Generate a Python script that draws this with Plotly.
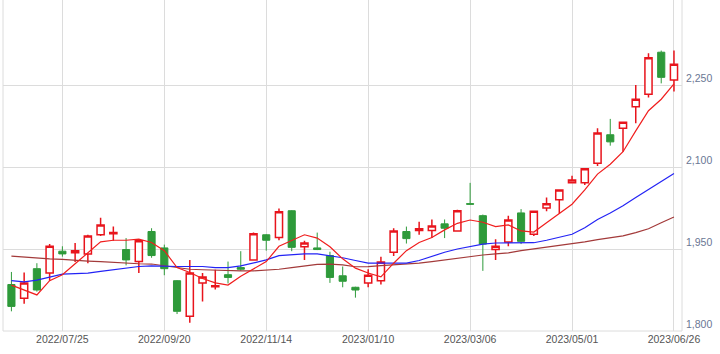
import plotly.graph_objects as go

weeks = ["2022/06/27","2022/07/04","2022/07/11","2022/07/19","2022/07/25","2022/08/01","2022/08/08",
         "2022/08/15","2022/08/22","2022/08/29","2022/09/05","2022/09/12","2022/09/20","2022/09/26",
         "2022/10/03","2022/10/11","2022/10/17","2022/10/24","2022/10/31","2022/11/07","2022/11/14",
         "2022/11/21","2022/11/28","2022/12/05","2022/12/12","2022/12/19","2022/12/26","2023/01/04",
         "2023/01/10","2023/01/16","2023/01/23","2023/01/30","2023/02/06","2023/02/13","2023/02/20",
         "2023/02/27","2023/03/06","2023/03/13","2023/03/20","2023/03/27","2023/04/03","2023/04/10",
         "2023/04/17","2023/04/24","2023/05/01","2023/05/08","2023/05/15","2023/05/22","2023/05/29",
         "2023/06/05","2023/06/12","2023/06/19","2023/06/26"]

open_ = [1885,1860,1914,1906,1946,1943,1941,1976,1978,1949,1927,1982,1952,1892,1827,1888,1881,1903,
         1916,1930,1976,1971,2020,1954,1952,1938,1901,1880,1888,1892,1944,1982,1984,1984,1996,1983,
         2033,2011,1949,1963,2016,1977,2025,2040,2071,2071,2107,2159,2171,2210,2233,2310,2259]
high = [1908,1907,1924,1959,1955,1961,1976,2007,1991,1970,1967,1988,1958,1893,1930,1906,1912,1927,
        1946,1980,1977,2024,2021,1965,1980,1945,1918,1881,1913,1936,1988,1991,2000,2004,2004,2022,
        2071,2013,1968,2011,2023,2020,2044,2058,2084,2097,2171,2188,2183,2250,2308,2313,2313]
low = [1836,1850,1872,1892,1936,1926,1924,1974,1965,1920,1906,1934,1902,1831,1815,1854,1876,1887,
       1910,1930,1947,1966,1946,1930,1948,1888,1880,1861,1880,1885,1937,1960,1976,1970,1970,1983,
       2031,1910,1930,1955,1959,1974,2019,2015,2070,2067,2102,2139,2128,2180,2227,2253,2238]
close = [1845,1888,1875,1955,1941,1947,1974,1994,1980,1930,1965,1938,1914,1836,1906,1899,1883,1898,
         1913,1978,1966,2018,1953,1961,1949,1898,1891,1875,1902,1926,1983,1969,1987,1992,1988,2020,
         2032,1959,1955,2003,1964,2019,2033,2058,2076,2097,2162,2146,2182,2224,2300,2264,2288]

ma_short = [1884,1875,1866,1892,1903,1923,1943,1963,1966,1966,1968,1962,1947,1916,1907,1896,1888,1884,
            1900,1913,1927,1955,1965,1976,1970,1954,1932,1915,1906,1899,1924,1947,1962,1971,1985,1997,
            2003,1999,1991,1994,1983,1981,1998,2015,2032,2058,2087,2105,2128,2166,2203,2224,2252]
ma_mid = [1892,1890,1893,1899,1904,1905,1906,1909,1912,1915,1918,1919,1918,1918,1918,1918,1916,1916,
          1919,1925,1930,1938,1940,1941,1941,1938,1934,1929,1924,1924,1924,1924,1929,1937,1944,1950,
          1955,1959,1961,1961,1961,1961.5,1966,1971,1977,1989,2004,2016,2029,2044,2059,2074,2088]
ma_long = [1937,1935,1933.5,1932,1931,1929,1928,1927,1925.5,1924,1923,1922.5,1919.5,1916,1913,1912,1911,
           1910,1910,1910,1911.5,1913,1916,1919,1922,1922.5,1921,1917.5,1917.6,1919.5,1921,1922.5,1924,
           1927,1930,1933.5,1936.5,1939,1941,1943,1947,1950,1953,1956,1959,1963,1967,1971,1974,1980,
           1987,1998,2008.5]

tick_dates = ["2022/07/25","2022/09/20","2022/11/14","2023/01/10","2023/03/06","2023/05/01","2023/06/26"]
y_ticks = [1800, 1950, 2100, 2250]

fig = go.Figure()
fig.add_trace(go.Candlestick(
    x=weeks, open=open_, high=high, low=low, close=close,
    increasing=dict(line=dict(color="#e8141c", width=1.5), fillcolor="#ffffff"),
    decreasing=dict(line=dict(color="#2e9a3a", width=1), fillcolor="#2e9a3a"),
    whiskerwidth=0, hoverinfo="skip", showlegend=False))
fig.add_trace(go.Scatter(x=weeks, y=ma_long, mode="lines",
                         line=dict(color="#a33a3a", width=1.2), showlegend=False))
fig.add_trace(go.Scatter(x=weeks, y=ma_mid, mode="lines",
                         line=dict(color="#2323f5", width=1.2), showlegend=False))
fig.add_trace(go.Scatter(x=weeks, y=ma_short, mode="lines",
                         line=dict(color="#f01e1e", width=1.2), showlegend=False))

fig.update_layout(
    width=720, height=354,
    margin=dict(l=3, r=38, t=0, b=23),
    paper_bgcolor="white", plot_bgcolor="white",
    boxgap=0.2,
    font=dict(family="Liberation Sans, Arial, sans-serif", size=10.5, color="#555555"),
    xaxis=dict(type="category", range=[-0.66, 52.63], rangeslider=dict(visible=False),
               tickmode="array", tickvals=tick_dates, ticktext=tick_dates,
               showgrid=True, gridcolor="#dcdcdc", gridwidth=1, ticks="",
               showline=False, zeroline=False, tickfont=dict(color="#555555")),
    yaxis=dict(side="right", range=[1800, 2405.5], tickmode="array", tickvals=y_ticks,
               tickformat=",d", showgrid=True, gridcolor="#dcdcdc", gridwidth=1, ticks="",
               zeroline=False, showline=False, ticklabelshift=-7, ticklabelstandoff=3,
               tickfont=dict(color="#6a7794")),
    shapes=[
        dict(type="line", xref="paper", yref="paper", x0=0, x1=0, y0=0, y1=1,
             line=dict(color="#dcdcdc", width=1)),
        dict(type="line", xref="paper", yref="paper", x0=1, x1=1, y0=0, y1=1,
             line=dict(color="#dcdcdc", width=1)),
        dict(type="line", xref="paper", yref="paper", x0=0, x1=1, y0=0, y1=0,
             line=dict(color="#dcdcdc", width=1)),
    ],
)

fig.write_html("out.html")
